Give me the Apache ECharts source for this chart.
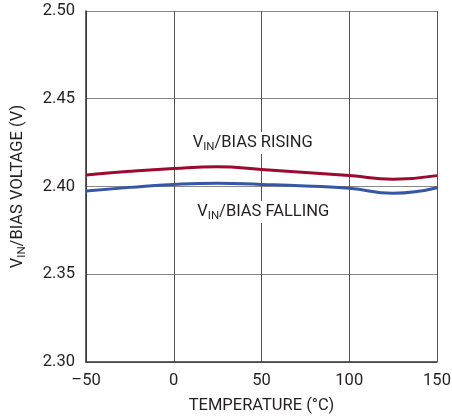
<!DOCTYPE html>
<html><head><meta charset="utf-8">
<script src="https://cdn.jsdelivr.net/npm/echarts@6/dist/echarts.min.js"></script>
<style>html,body{margin:0;padding:0;background:#fff}#c{width:452px;height:419px}</style>
</head><body><div id="c"></div>
<script>
const temps = [-50, -25, 0, 25, 50, 75, 100, 125, 150];
const rising = [2.4065, 2.4087, 2.4103, 2.4112, 2.4097, 2.4080, 2.4062, 2.4042, 2.4062];
const falling = [2.3975, 2.3995, 2.4012, 2.4019, 2.4012, 2.4003, 2.3990, 2.3962, 2.3993];
const xTicks = [-50, 0, 50, 100, 150];
const yTicks = [2.30, 2.35, 2.40, 2.45, 2.50];
const FONT = 'Roboto, "Liberation Sans", Arial, sans-serif';
const FS = 16.5;
const rich = {
  m: {fontFamily: FONT, fontSize: FS, color: '#231f20', lineHeight: 20},
  s: {fontFamily: FONT, fontSize: 11.5, color: '#231f20', lineHeight: 20, verticalAlign: 'bottom', padding: [8, 0, 0, 0]}
};
const chart = echarts.init(document.getElementById('c'));
chart.setOption({
  animation: false,
  grid: {left: 86, right: 15, top: 11, bottom: 57, containLabel: false, outerBoundsMode: 'none'},
  xAxis: {
    type: 'value', min: -50, max: 150, interval: 50,
    axisLine: {show: true, onZero: false, lineStyle: {color: '#333', width: 1.5}},
    axisTick: {show: false},
    axisLabel: {fontFamily: FONT, fontSize: FS, color: '#231f20', margin: 10,
      formatter: v => String(v).replace('-', '\u2013')},
    splitLine: {show: true, lineStyle: {color: '#555', width: 1}},
    name: 'TEMPERATURE (°C)', nameLocation: 'middle', nameGap: 35,
    nameTextStyle: {fontFamily: FONT, fontSize: FS, color: '#231f20'}
  },
  yAxis: {
    type: 'value', min: 2.30, max: 2.50, interval: 0.05,
    axisLine: {show: true, onZero: false, lineStyle: {color: '#333', width: 1.5}},
    axisTick: {show: false},
    axisLabel: {fontFamily: FONT, fontSize: FS, color: '#231f20', margin: 11,
      formatter: v => v.toFixed(2)},
    splitLine: {show: true, lineStyle: {color: '#888', width: 1}},
    name: '{m|V}{s|IN}{m|/BIAS VOLTAGE (V)}', nameLocation: 'middle', nameGap: 58, nameRotate: 90,
    nameTextStyle: {rich: rich}
  },
  series: [
    {type: 'line', data: temps.map((t, i) => [t, rising[i]]), smooth: 0.5, showSymbol: false,
      lineStyle: {color: '#9b0a2f', width: 3}, z: 3,
      markPoint: {symbolSize: 0, data: [{coord: [45, 2.4248]}],
        label: {show: true, formatter: '{m|V}{s|IN}{m|/BIAS RISING}', rich: rich,
          backgroundColor: '#fff', padding: [1, 2]}}},
    {type: 'line', data: temps.map((t, i) => [t, falling[i]]), smooth: 0.5, showSymbol: false,
      lineStyle: {color: '#3657a6', width: 3}, z: 3,
      markPoint: {symbolSize: 0, data: [{coord: [51, 2.3855]}],
        label: {show: true, formatter: '{m|V}{s|IN}{m|/BIAS FALLING}', rich: rich,
          backgroundColor: '#fff', padding: [1, 2]}}}
  ]
});
</script></body></html>
